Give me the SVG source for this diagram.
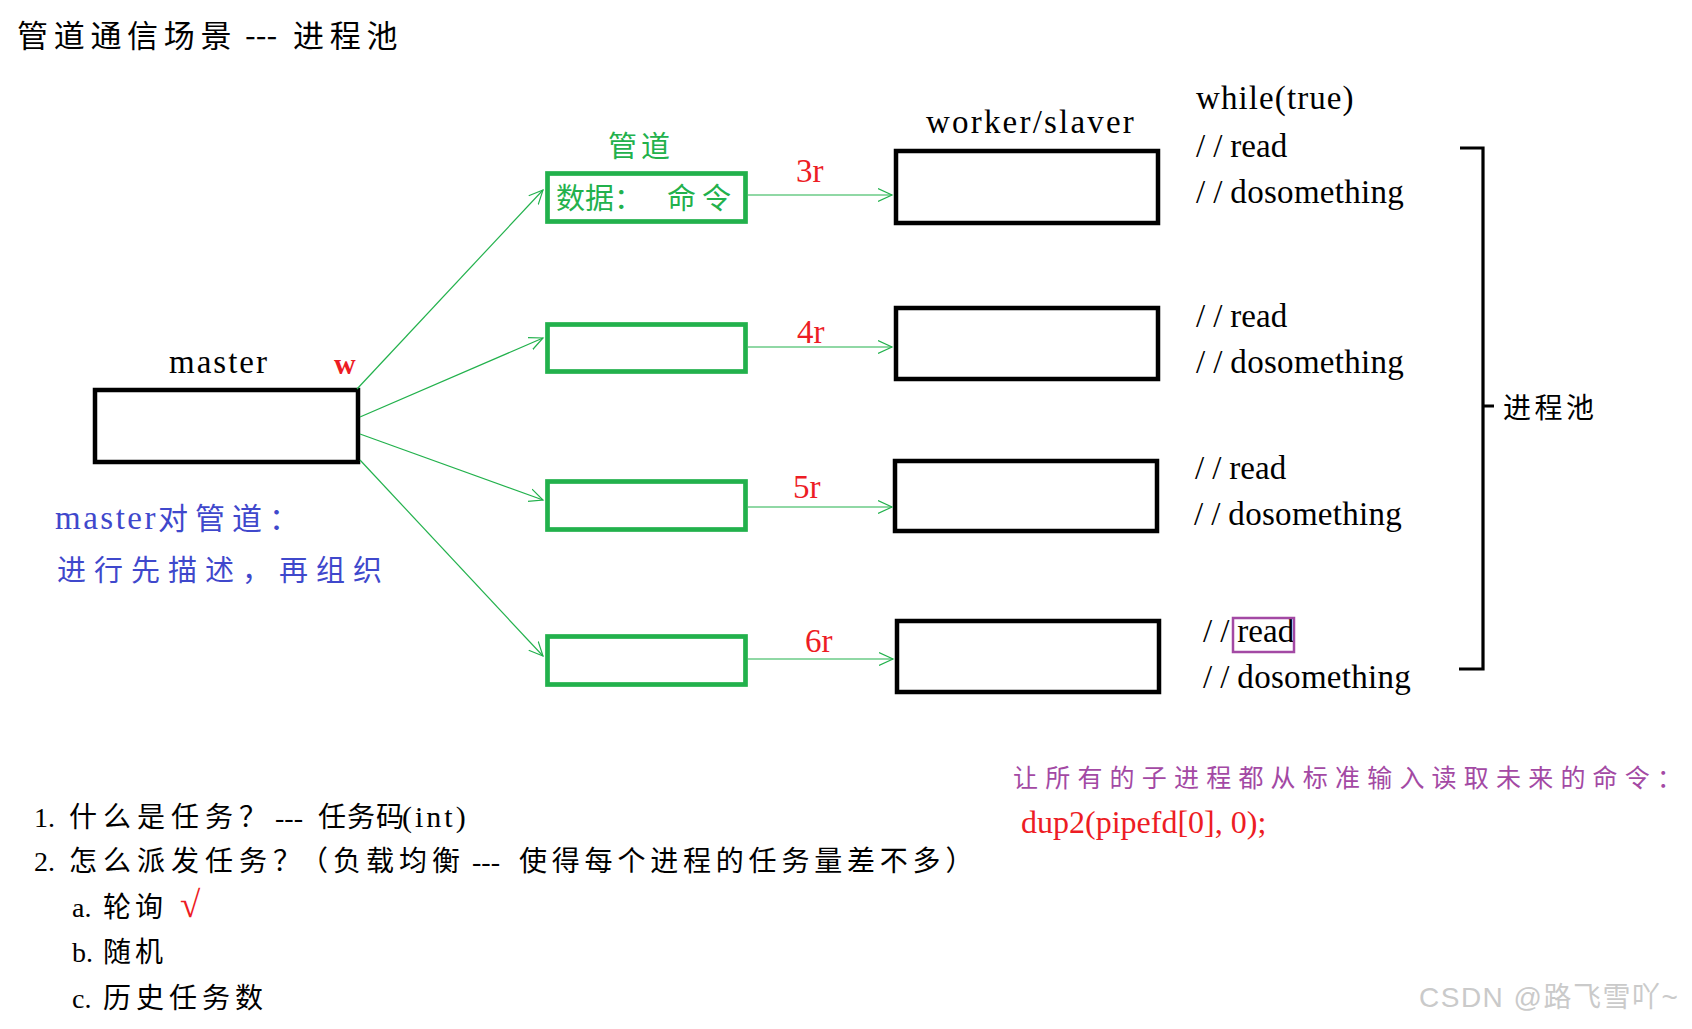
<svg xmlns="http://www.w3.org/2000/svg" width="1692" height="1029" viewBox="0 0 1692 1029">
<defs>
<style>
.bg{fill:#fff}
.serif{font-family:"Liberation Serif","Noto Sans CJK SC",serif}
.cjk{font-family:"Noto Sans CJK SC","Liberation Serif",sans-serif}
.blk{fill:#000}
.red{fill:#ed1c24}
.grn{fill:#22b14c}
.blu{fill:#3f48cc}
.pur{fill:#a349a4}
.master{fill:#fff;stroke:#000;stroke-width:4.5}
.worker{fill:#fff;stroke:#000;stroke-width:4.5}
.pipe{fill:#fff;stroke:#22b14c;stroke-width:4.7}
.conn{stroke:#22b14c;stroke-width:1.2;fill:none;marker-end:url(#arr)}
.code{font-size:33px}
</style>
<marker id="arr" markerUnits="userSpaceOnUse" markerWidth="16" markerHeight="16" refX="14" refY="8" orient="auto">
<path d="M0,1.5 L14,8 L0,14.5" fill="none" stroke="#22b14c" stroke-width="1.2"/>
</marker>
</defs>
<rect class="bg" x="0" y="0" width="1692" height="1029"/>

<text class="cjk blk" x="17" y="47" font-size="31" letter-spacing="5.7">管道通信场景<tspan x="245" letter-spacing="0">---</tspan><tspan x="293">进程池</tspan></text>

<g id="master">
<rect class="master" x="95" y="390" width="263" height="72"/>
<text class="serif blk" x="169" y="373" font-size="33" letter-spacing="2">master</text>
<text class="serif red" x="334" y="374" font-size="30" font-weight="bold">w</text>
</g>

<g id="pipe1">
<rect class="pipe" x="547.5" y="173.5" width="198" height="48"/>
<text class="cjk grn" x="608" y="157" font-size="29" letter-spacing="4">管道</text>
<text class="cjk grn" x="556" y="209" font-size="29">数据：<tspan x="667" letter-spacing="6">命令</tspan></text>
</g>
<g id="pipe2"><rect class="pipe" x="547.5" y="324.5" width="198" height="47"/></g>
<g id="pipe3"><rect class="pipe" x="547.5" y="481.5" width="198" height="48"/></g>
<g id="pipe4"><rect class="pipe" x="547.5" y="636.5" width="198" height="48"/></g>

<g id="worker1">
<rect class="worker" x="896" y="151" width="262" height="72"/>
<text class="serif blk" x="926" y="133" font-size="33" letter-spacing="2.2">worker/slaver</text>
</g>
<g id="worker2"><rect class="worker" x="896" y="308" width="262" height="71"/></g>
<g id="worker3"><rect class="worker" x="895" y="461" width="262" height="70"/></g>
<g id="worker4"><rect class="worker" x="897" y="621" width="262" height="71"/></g>

<g id="code">
<text class="serif blk code" x="1196" y="109" letter-spacing="1.1">while(true)</text>
<text class="serif blk code" x="1196" y="157"><tspan letter-spacing="8">//</tspan>read</text>
<text class="serif blk code" x="1196" y="203" letter-spacing="0.3"><tspan letter-spacing="8">//</tspan>dosomething</text>
<text class="serif blk code" x="1196" y="327"><tspan letter-spacing="8">//</tspan>read</text>
<text class="serif blk code" x="1196" y="373" letter-spacing="0.3"><tspan letter-spacing="8">//</tspan>dosomething</text>
<text class="serif blk code" x="1195" y="479"><tspan letter-spacing="8">//</tspan>read</text>
<text class="serif blk code" x="1194" y="525" letter-spacing="0.3"><tspan letter-spacing="8">//</tspan>dosomething</text>
<text class="serif blk code" x="1203" y="642"><tspan letter-spacing="8">//</tspan>read</text>
<rect x="1233" y="618" width="61" height="34" fill="none" stroke="#a349a4" stroke-width="2.5"/>
<text class="serif blk code" x="1203" y="688" letter-spacing="0.3"><tspan letter-spacing="8">//</tspan>dosomething</text>
</g>

<g id="pool">
<path d="M1460,148 H1483 V669 H1459 M1483,406 H1494" fill="none" stroke="#000" stroke-width="3.2"/>
<text class="cjk blk" x="1503" y="418" font-size="28" letter-spacing="3.5">进程池</text>
</g>

<g id="connectors">
<line class="conn" x1="357" y1="389" x2="543" y2="190"/>
<line class="conn" x1="360" y1="417" x2="543" y2="338"/>
<line class="conn" x1="360" y1="434" x2="543" y2="500"/>
<line class="conn" x1="360" y1="460" x2="543" y2="656"/>
<line class="conn" x1="748" y1="195" x2="892" y2="195"/>
<line class="conn" x1="748" y1="347" x2="892" y2="347"/>
<line class="conn" x1="748" y1="507" x2="892" y2="507"/>
<line class="conn" x1="748" y1="659" x2="893" y2="659"/>
<text class="serif red" x="796" y="182" font-size="33">3r</text>
<text class="serif red" x="797" y="343" font-size="33">4r</text>
<text class="serif red" x="793" y="498" font-size="33">5r</text>
<text class="serif red" x="805" y="652" font-size="33">6r</text>
</g>

<g id="note-master">
<text class="serif blu" x="55" y="529" font-size="33" letter-spacing="2.5">master<tspan class="cjk" x="158" font-size="30" letter-spacing="7">对管道：</tspan></text>
<text class="cjk blu" x="57" y="581" font-size="29" letter-spacing="8">进行先描述，再组织</text>
</g>

<g id="note-tasks">
<text class="serif blk" x="34" y="827" font-size="28">1.<tspan class="cjk" x="69" letter-spacing="6">什么是任务？</tspan><tspan x="275">---</tspan><tspan class="cjk" x="318" letter-spacing="1">任务码</tspan><tspan x="402" font-size="30" letter-spacing="3">(int)</tspan></text>
<text class="serif blk" x="34" y="871" font-size="28">2.<tspan class="cjk" x="69" letter-spacing="6">怎么派发任务？</tspan><tspan class="cjk" x="300" letter-spacing="5">（负载均衡</tspan><tspan x="472">---</tspan><tspan class="cjk" x="519" letter-spacing="4.8">使得每个进程的任务量差不多）</tspan></text>
<text class="serif blk" x="72" y="917" font-size="28">a.<tspan class="cjk" x="103" letter-spacing="4">轮询</tspan><tspan class="red" x="180" font-size="37">√</tspan></text>
<text class="serif blk" x="72" y="962" font-size="28">b.<tspan class="cjk" x="103" letter-spacing="4">随机</tspan></text>
<text class="serif blk" x="72" y="1008" font-size="28">c.<tspan class="cjk" x="103" letter-spacing="5">历史任务数</tspan></text>
</g>

<g id="note-dup">
<text class="cjk pur" x="1013" y="787" font-size="25" letter-spacing="7.2">让所有的子进程都从标准输入读取未来的命令：</text>
<text class="serif red" x="1021" y="833" font-size="32">dup2(pipefd[0], 0);</text>
</g>

<text x="1419" y="1007" font-size="28" letter-spacing="1.5" fill="#cacaca" font-family="Liberation Sans, Noto Sans CJK SC, sans-serif">CSDN @路飞雪吖~</text>
</svg>
